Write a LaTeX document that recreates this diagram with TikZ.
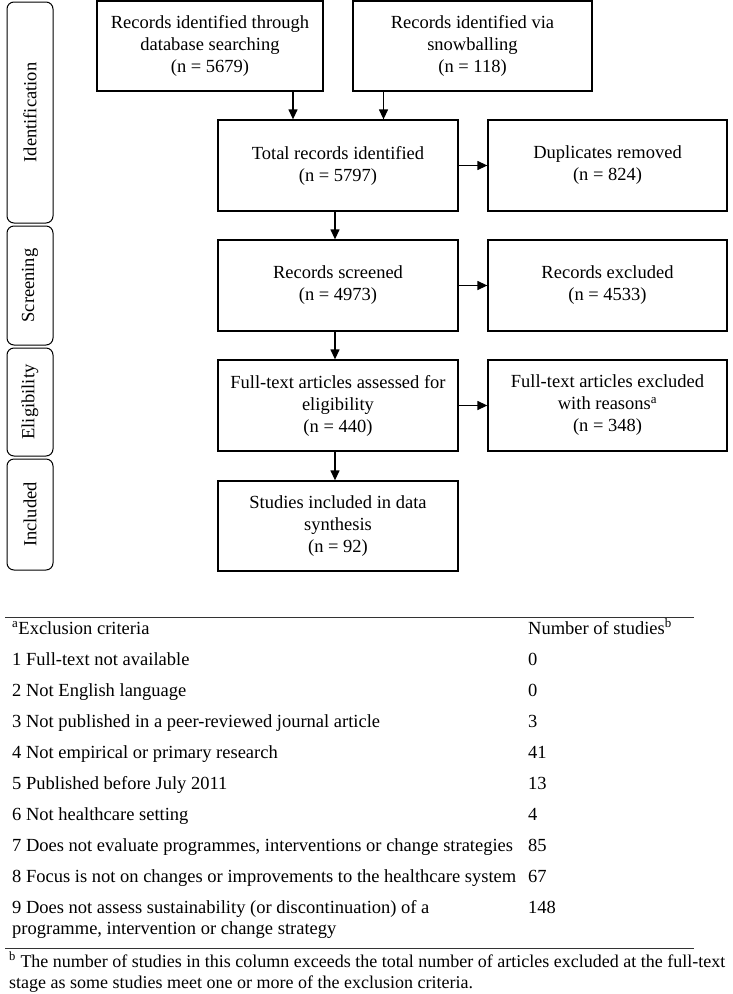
\documentclass[tikz,border=0pt]{standalone}
\usepackage{fontspec}
\setmainfont{Liberation Serif}
\usetikzlibrary{arrows.meta}
\begin{document}
\begin{tikzpicture}[x=1pt,y=-1pt,
  box/.style={draw, line width=1.3pt, minimum width=240pt, minimum height=91pt, inner sep=0pt, align=center, font=\fontsize{18.5}{22}\selectfont},
  side/.style={draw, line width=1pt, rounded corners=7pt, rotate=90, minimum height=46pt, inner sep=0pt, font=\fontsize{18.5}{22}\selectfont},
  arr/.style={line width=1.3pt, -{Triangle[length=10pt,width=9pt]}},
  tab/.style={anchor=base west, inner sep=0pt, font=\fontsize{18.5}{21}\selectfont},
  foot/.style={anchor=base west, inner sep=0pt, font=\fontsize{18}{21}\selectfont},
  rulestyle/.style={line width=0.8pt, draw=black!80}]
\useasboundingbox (0,0) rectangle (732,994);

% side labels
\node[side, minimum width=221pt] (sid) at (30,112.5) {Identification};
\node[side, minimum width=119pt] (ssc) at (30,285.5) {Screening};
\node[side, minimum width=108pt] (sel) at (30,402) {Eligibility};
\node[side, minimum width=111pt] (sin) at (30,514.5) {Included};

% flow boxes
\node[box, minimum width=226pt, minimum height=90pt] (dbs) at (210,46) {Records identified through\\database searching\\(n = 5679)};
\node[box, minimum width=239pt, minimum height=90pt] (snow) at (472.5,46) {Records identified via\\snowballing\\(n = 118)};
\node[box] (total) at (338,165.5) {Total records identified\\(n = 5797)};
\node[box, minimum width=239pt] (dup) at (607.5,165.5) {Duplicates removed\\(n = 824)};
\node[box] (scr) at (338,285.5) {Records screened\\(n = 4973)};
\node[box, minimum width=239pt] (rex) at (607.5,285.5) {Records excluded\\(n = 4533)};
\node[box] (fta) at (338,405.5) {Full-text articles assessed for\\eligibility\\(n = 440)};
\node[box, minimum width=239pt] (fte) at (607.5,405.5) {Full-text articles excluded\\with reasons\textsuperscript{a}\\(n = 348)};
\node[box, minimum height=90pt] (inc) at (338,526) {Studies included in data\\synthesis\\(n = 92)};

\coordinate (c1) at (293,0);
\coordinate (c2) at (383.5,0);
\draw[arr] (dbs.south -| c1) -- (total.north -| c1);
\draw[arr] (snow.south -| c2) -- (total.north -| c2);
\draw[arr] (total) -- (dup);
\draw[arr] ([xshift=-3pt]total.south) -- ([xshift=-3pt]scr.north);
\draw[arr] (scr) -- (rex);
\draw[arr] ([xshift=-3pt]scr.south) -- ([xshift=-3pt]fta.north);
\draw[arr] (fta) -- (fte);
\draw[arr] ([xshift=-3pt]fta.south) -- ([xshift=-3pt]inc.north);

% table
\coordinate (r1a) at (5,617);
\coordinate (r1b) at (694,617);
\draw[rulestyle] (r1a) -- (r1b);
\node[tab] (h1) at (12,634) {\textsuperscript{a}Exclusion criteria};
\node[tab] (h2) at (528,634) {Number of studies\textsuperscript{b}};
\node[tab] (t1) at (12,665) {1 Full-text not available};
\node[tab] (n1) at (528,665) {0};
\node[tab] (t2) at (12,696) {2 Not English language};
\node[tab] (n2) at (528,696) {0};
\node[tab] (t3) at (12,727) {3 Not published in a peer-reviewed journal article};
\node[tab] (n3) at (528,727) {3};
\node[tab] (t4) at (12,758) {4 Not empirical or primary research};
\node[tab] (n4) at (528,758) {41};
\node[tab] (t5) at (12,789) {5 Published before July 2011};
\node[tab] (n5) at (528,789) {13};
\node[tab] (t6) at (12,820) {6 Not healthcare setting};
\node[tab] (n6) at (528,820) {4};
\node[tab] (t7) at (12,851) {7 Does not evaluate programmes, interventions or change strategies};
\node[tab] (n7) at (528,851) {85};
\node[tab] (t8) at (12,882) {8 Focus is not on changes or improvements to the healthcare system};
\node[tab] (n8) at (528,882) {67};
\node[tab] (t9) at (12,913) {\parbox[t]{500pt}{\raggedright 9 Does not assess sustainability (or discontinuation) of a\\programme, intervention or change strategy}};
\node[tab] (n9) at (528,913) {148};
\coordinate (r2a) at (5,948);
\coordinate (r2b) at (694,948);
\draw[rulestyle] (r2a) -- (r2b);
\node[foot] (f1) at (9,967) {\textsuperscript{b} The number of studies in this column exceeds the total number of articles excluded at the full-text};
\node[foot] (f2) at (9,988) {stage as some studies meet one or more of the exclusion criteria.};
\end{tikzpicture}
\end{document}
